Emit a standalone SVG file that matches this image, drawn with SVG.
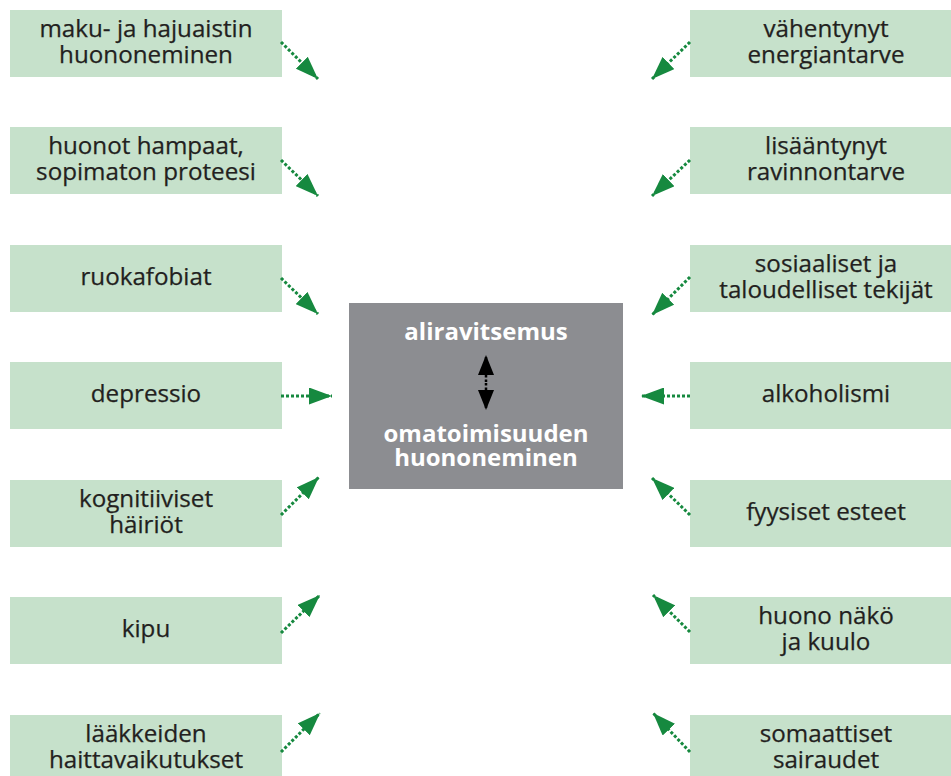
<svg xmlns="http://www.w3.org/2000/svg" width="951" height="776" viewBox="0 0 951 776">
<style>
.box{fill:#c6e1cb}
.t{font-family:"Open Sans","Liberation Sans",sans-serif;font-size:24.2px;fill:#231f20;text-anchor:middle;stroke:#231f20;stroke-width:0.25px}
.c{font-family:"Open Sans","Liberation Sans",sans-serif;font-size:24px;font-weight:bold;fill:#ffffff;text-anchor:middle}
.ar{stroke:#16893f;stroke-width:3;stroke-dasharray:3 2;fill:none;marker-end:url(#ah)}
</style>
<defs>
<marker id="ah" markerUnits="userSpaceOnUse" markerWidth="23" markerHeight="17" refX="23" refY="8.5" orient="auto">
<path d="M0,0 L23,8.5 L0,17 Z" fill="#16893f"/>
</marker>
<marker id="bh" markerUnits="userSpaceOnUse" markerWidth="20" markerHeight="16" refX="20" refY="8" orient="auto">
<path d="M0,0 L20,8 L0,16 Z" fill="#000000"/>
</marker>
</defs>
<rect width="951" height="776" fill="#ffffff"/>

<g id="center">
<rect x="349" y="303" width="274" height="186" fill="#8c8d91"/>
<text class="c" x="486" y="340">aliravitsemus</text>
<text class="c" x="486" y="442">omatoimisuuden</text>
<text class="c" x="486" y="466">huononeminen</text>
</g>

<g id="l1"><rect class="box" x="10" y="10" width="272" height="67"/><text class="t" x="146" y="37">maku- ja hajuaistin</text><text class="t" x="146" y="63">huononeminen</text></g>
<g id="l2"><rect class="box" x="10" y="127" width="272" height="67"/><text class="t" x="146" y="154">huonot hampaat,</text><text class="t" x="146" y="180">sopimaton proteesi</text></g>
<g id="l3"><rect class="box" x="10" y="245" width="272" height="67"/><text class="t" x="146" y="285">ruokafobiat</text></g>
<g id="l4"><rect class="box" x="10" y="362" width="272" height="67"/><text class="t" x="146" y="402">depressio</text></g>
<g id="l5"><rect class="box" x="10" y="480" width="272" height="67"/><text class="t" x="146" y="507">kognitiiviset</text><text class="t" x="146" y="533">häiriöt</text></g>
<g id="l6"><rect class="box" x="10" y="597" width="272" height="67"/><text class="t" x="146" y="637">kipu</text></g>
<g id="l7"><rect class="box" x="10" y="715" width="272" height="67"/><text class="t" x="146" y="742">lääkkeiden</text><text class="t" x="146" y="768">haittavaikutukset</text></g>

<g id="r1"><rect class="box" x="690" y="10" width="280" height="67"/><text class="t" x="826" y="37">vähentynyt</text><text class="t" x="826" y="63">energiantarve</text></g>
<g id="r2"><rect class="box" x="690" y="127" width="280" height="67"/><text class="t" x="826" y="154">lisääntynyt</text><text class="t" x="826" y="180">ravinnontarve</text></g>
<g id="r3"><rect class="box" x="690" y="245" width="280" height="67"/><text class="t" x="826" y="272">sosiaaliset ja</text><text class="t" x="826" y="298">taloudelliset tekijät</text></g>
<g id="r4"><rect class="box" x="690" y="362" width="280" height="67"/><text class="t" x="826" y="402">alkoholismi</text></g>
<g id="r5"><rect class="box" x="690" y="480" width="280" height="67"/><text class="t" x="826" y="520">fyysiset esteet</text></g>
<g id="r6"><rect class="box" x="690" y="597" width="280" height="67"/><text class="t" x="826" y="624">huono näkö</text><text class="t" x="826" y="650">ja kuulo</text></g>
<g id="r7"><rect class="box" x="690" y="715" width="280" height="67"/><text class="t" x="826" y="742">somaattiset</text><text class="t" x="826" y="768">sairaudet</text></g>

<g id="connectors">
<line class="ar" x1="281" y1="42" x2="318" y2="79"/>
<line class="ar" x1="281" y1="160" x2="318" y2="196"/>
<line class="ar" x1="281" y1="278" x2="318" y2="314"/>
<line class="ar" x1="281" y1="396" x2="332" y2="396"/>
<line class="ar" x1="281" y1="515" x2="319" y2="477"/>
<line class="ar" x1="281" y1="633" x2="320" y2="595"/>
<line class="ar" x1="281" y1="752" x2="320" y2="713"/>
<line class="ar" x1="690" y1="42" x2="652" y2="79"/>
<line class="ar" x1="690" y1="160" x2="652" y2="196"/>
<line class="ar" x1="690" y1="277" x2="652" y2="315"/>
<line class="ar" x1="690" y1="396" x2="641" y2="396"/>
<line class="ar" x1="690" y1="515" x2="652" y2="478"/>
<line class="ar" x1="690" y1="632" x2="653" y2="595"/>
<line class="ar" x1="690" y1="752" x2="653" y2="713"/>
<line x1="486" y1="382" x2="486" y2="355" stroke="#000" stroke-width="2.5" stroke-dasharray="2.5 2" marker-end="url(#bh)"/>
<line x1="486" y1="383" x2="486" y2="410" stroke="#000" stroke-width="2.5" stroke-dasharray="2.5 2" marker-end="url(#bh)"/>
</g>
</svg>
